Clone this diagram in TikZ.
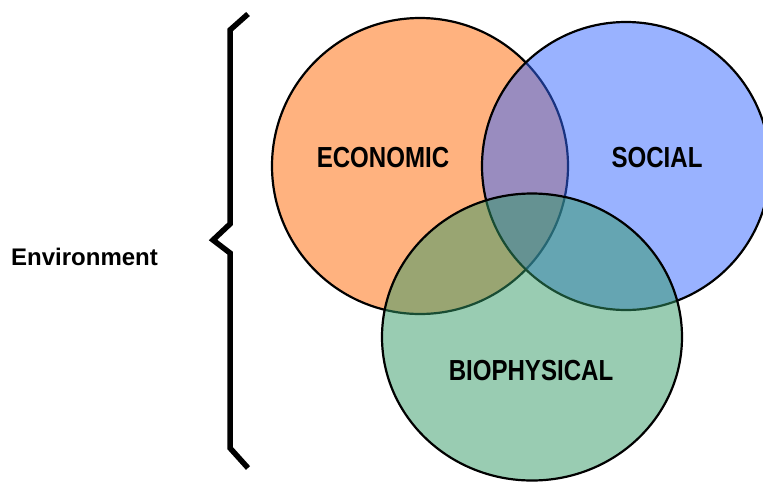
\documentclass[tikz,border=0pt]{standalone}
\usepackage{fontspec}
\usetikzlibrary{shapes.geometric}
\setmainfont{Liberation Sans}
\newfontfamily\narrowfont[FakeStretch=0.83]{Liberation Sans}
\definecolor{econ}{HTML}{FF6600}
\definecolor{soc}{HTML}{3366FF}
\definecolor{bio}{HTML}{339966}
\tikzset{
  setcircle/.style={circle, draw=black, line width=2.2pt, fill opacity=0.5, draw opacity=1, inner sep=0pt},
  setlabel/.style={font=\narrowfont\bfseries\fontsize{29}{31}\selectfont, inner sep=0pt, text opacity=1},
  bracepath/.style={line width=5.5pt, line join=miter, line cap=butt}
}
\begin{document}
\begin{tikzpicture}[x=1pt,y=-1pt]
\useasboundingbox (0,0) rectangle (763,483);
\begin{scope}
\clip (0,0) rectangle (763,483);
\node[setcircle, fill=econ, minimum size=296pt] (econ) at (420,166) {};
\node[setcircle, fill=soc, minimum size=288pt] (soc) at (626,166) {};
\node[draw=black, line width=2.2pt, fill opacity=0.5, draw opacity=1, inner sep=0pt, fill=bio, ellipse, minimum width=300pt, minimum height=287pt] (bio) at (532,337) {};
\end{scope}
\node[setlabel] (econlabel) at (383,158) {ECONOMIC};
\node[setlabel] (soclabel) at (657,158) {SOCIAL};
\node[setlabel] (biolabel) at (531,371) {BIOPHYSICAL};
\node[font=\bfseries\fontsize{24}{26}\selectfont, inner sep=0pt] (envlabel) at (84.5,257) {Environment};
\coordinate (bt) at (248,14);
\coordinate (bb) at (248,468);
\draw[bracepath] (bt) -- (230,30) -- (230,224) -- (213,240) -- (230,253) -- (230,448) -- (bb);
\end{tikzpicture}
\end{document}
